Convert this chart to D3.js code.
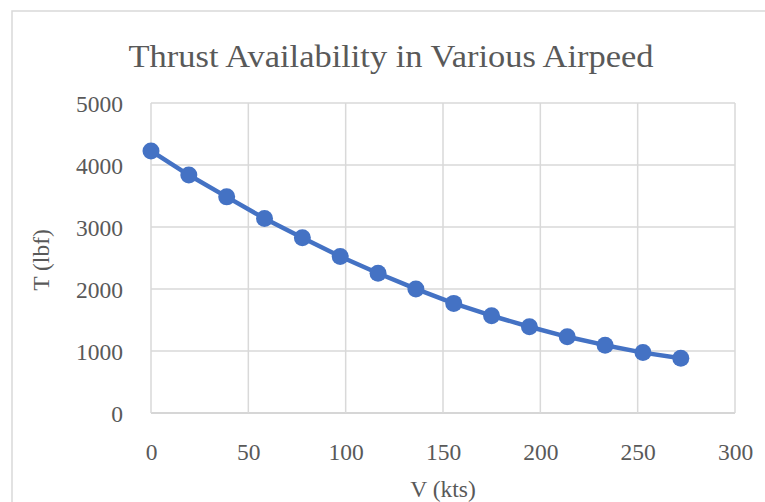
<!DOCTYPE html>
<html>
<head>
<meta charset="utf-8">
<script src="https://cdn.jsdelivr.net/npm/d3@7"></script>
<style>
  html, body { margin: 0; padding: 0; background: #fff; }
  svg { display: block; }
  text { font-family: "Palatino Linotype", "Book Antiqua", "Liberation Serif", "DejaVu Serif", serif; fill: #595959; }
</style>
</head>
<body>
<script>
const speedKts = [0, 19.44, 38.88, 58.32, 77.76, 97.2, 116.64, 136.08, 155.52, 174.96, 194.4, 213.84, 233.28, 252.72, 272.16];
const thrustLbf = [4227, 3838, 3486, 3136, 2828, 2525, 2254, 2001, 1768, 1569, 1391, 1229, 1094, 974, 883];
const xTicks = [0, 50, 100, 150, 200, 250, 300];
const yTicks = [0, 1000, 2000, 3000, 4000, 5000];
const titleText = "Thrust Availability in Various Airpeed";
const xLabel = "V (kts)";
const yLabel = "T (lbf)";

const W = 765, H = 502;
const svg = d3.select("body").append("svg").attr("width", W).attr("height", H);

svg.append("rect").attr("x", 12).attr("y", 11).attr("width", W).attr("height", H)
  .attr("fill", "#fff").attr("stroke", "#d9d9d9").attr("stroke-width", 1.5);

const x = d3.scaleLinear().domain([0, 300]).range([151, 735]);
const y = d3.scaleLinear().domain([0, 5000]).range([413, 103]);

const grid = svg.append("g");
grid.selectAll("line.h").data(yTicks).join("line")
  .attr("x1", x(0)).attr("x2", x(300))
  .attr("y1", d => y(d)).attr("y2", d => y(d))
  .attr("stroke", d => d === 0 ? "#c8c8c8" : "#d9d9d9").attr("stroke-width", 1.5);
grid.selectAll("line.v").data(xTicks).join("line")
  .attr("y1", y(0)).attr("y2", y(5000))
  .attr("x1", d => x(d)).attr("x2", d => x(d))
  .attr("stroke", "#d9d9d9").attr("stroke-width", 1.5);

const xAxis = svg.append("g").attr("transform", `translate(0,${y(0)})`)
  .call(d3.axisBottom(x).tickValues(xTicks).tickSize(0).tickPadding(47).tickFormat(d3.format("d")));
const yAxis = svg.append("g").attr("transform", `translate(${x(0)},0)`)
  .call(d3.axisLeft(y).tickValues(yTicks).tickSize(0).tickPadding(28).tickFormat(d3.format("d")));
[xAxis, yAxis].forEach(a => {
  a.select(".domain").remove();
  a.selectAll("text").attr("font-size", 23.5).attr("fill", "#595959")
    .style("font-family", '"Palatino Linotype", "Book Antiqua", "Liberation Serif", serif');
});
yAxis.selectAll("text").attr("dy", "0.35em");
xAxis.selectAll("text").attr("dy", "0");

const data = speedKts.map((v, i) => ({ v, t: thrustLbf[i] }));
const line = d3.line().x(d => x(d.v)).y(d => y(d.t));
svg.append("path").datum(data).attr("d", line)
  .attr("fill", "none").attr("stroke", "#4472C4").attr("stroke-width", 4.5)
  .attr("stroke-linejoin", "round");
svg.selectAll("circle.pt").data(data).join("circle")
  .attr("cx", d => x(d.v)).attr("cy", d => y(d.t)).attr("r", 8.5)
  .attr("fill", "#4472C4");

svg.append("text").attr("x", 391).attr("y", 67).attr("text-anchor", "middle")
  .attr("font-size", 31).attr("textLength", 525).attr("lengthAdjust", "spacingAndGlyphs")
  .text(titleText);
svg.append("text").attr("x", 443).attr("y", 497).attr("text-anchor", "middle")
  .attr("font-size", 23.5).text(xLabel);
svg.append("text").attr("transform", "translate(49,260) rotate(-90)")
  .attr("text-anchor", "middle").attr("font-size", 23.5).text(yLabel);
</script>
</body>
</html>
